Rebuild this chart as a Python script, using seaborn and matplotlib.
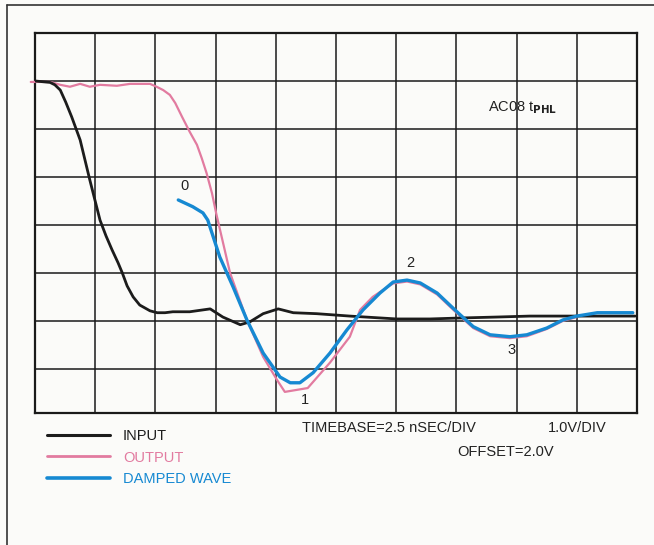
import numpy as np
import pandas as pd
import seaborn as sns
import matplotlib.pyplot as plt
from matplotlib.lines import Line2D

# Scope trace readings, in screen divisions (x: 2.5 ns/div, y: 1.0 V/div)
input_t = [0.0, 0.25, 0.33, 0.42, 0.51, 0.61, 0.75, 0.91, 1.08, 1.18, 1.28, 1.38, 1.45, 1.53,
           1.63, 1.74, 1.91, 2.03, 2.16, 2.29, 2.57, 2.91, 3.12, 3.41, 3.57, 3.79, 4.04, 4.29,
           4.68, 5.23, 6.01, 6.56, 7.06, 7.67, 8.22, 9.0, 9.97]
input_v = [7.0, 6.97, 6.92, 6.81, 6.56, 6.25, 5.77, 4.94, 4.10, 3.77, 3.48, 3.21, 3.0, 2.73,
           2.50, 2.33, 2.21, 2.17, 2.17, 2.19, 2.19, 2.25, 2.08, 1.92, 1.98, 2.15, 2.25, 2.17,
           2.15, 2.10, 2.04, 2.04, 2.06, 2.08, 2.10, 2.10, 2.10]

output_t = [-0.07, 0.25, 0.42, 0.58, 0.75, 0.91, 1.08, 1.36, 1.58, 1.91, 2.02, 2.13, 2.24, 2.33,
            2.44, 2.57, 2.69, 2.77, 2.85, 2.94, 3.01, 3.24, 3.52, 3.79, 4.02, 4.15, 4.53, 4.90,
            5.23, 5.40, 5.61, 5.80, 5.95, 6.18, 6.40, 6.68, 6.89, 7.06, 7.28, 7.56, 7.89, 8.17,
            8.50, 8.77, 9.00]
output_v = [6.98, 6.98, 6.92, 6.88, 6.94, 6.88, 6.92, 6.90, 6.94, 6.94, 6.88, 6.81, 6.71, 6.54,
            6.26, 5.94, 5.67, 5.39, 5.08, 4.66, 4.24, 3.0, 2.02, 1.25, 0.77, 0.52, 0.60, 1.13,
            1.67, 2.23, 2.50, 2.66, 2.78, 2.82, 2.76, 2.55, 2.30, 2.10, 1.85, 1.68, 1.64, 1.68,
            1.83, 2.0, 2.08]

damped_t = [2.38, 2.62, 2.79, 2.87, 3.07, 3.29, 3.52, 3.79, 4.07, 4.24, 4.40, 4.62, 4.90, 5.18,
            5.45, 5.73, 5.95, 6.18, 6.40, 6.68, 6.89, 7.06, 7.28, 7.56, 7.89, 8.17, 8.50, 8.77,
            9.00, 9.34, 9.67, 9.93]
damped_v = [4.52, 4.38, 4.25, 4.10, 3.33, 2.71, 2.02, 1.33, 0.83, 0.71, 0.71, 0.92, 1.33, 1.81,
            2.23, 2.58, 2.81, 2.85, 2.79, 2.58, 2.33, 2.13, 1.88, 1.71, 1.67, 1.71, 1.85, 2.02,
            2.10, 2.17, 2.17, 2.17]

# point labels along the damped wave
marker_text = ["0", "1", "2", "3"]
marker_t = [2.48, 4.49, 6.23, 7.91]
marker_v = [4.81, 0.35, 3.21, 1.40]

sns.set_style("white")
plt.rcParams['font.family'] = ['Liberation Sans', 'DejaVu Sans']

bg = '#fbfbf9'
fs = 10.5
fig = plt.figure(figsize=(6.54, 5.45), dpi=100, facecolor=bg)
ax = fig.add_axes([35/654, 1 - 413/545, (637 - 35)/654, (413 - 33)/545])
ax.set_facecolor(bg)

black = '#1c1c1c'
pink = '#e27ba0'
blue = '#1689d2'

sns.lineplot(x=output_t, y=output_v, sort=False, estimator=None, color=pink, lw=1.6,
             ax=ax, clip_on=False, zorder=3)
sns.lineplot(x=input_t, y=input_v, sort=False, estimator=None, color=black, lw=2.0,
             ax=ax, zorder=4)
sns.lineplot(x=damped_t, y=damped_v, sort=False, estimator=None, color=blue, lw=2.4,
             ax=ax, zorder=5)

for s, t, v in zip(marker_text, marker_t, marker_v):
    ax.text(t, v, s, fontsize=fs, ha='center', va='center', color='#222222')

ax.text(7.52, 6.44, r'AC08 t$_{\mathbf{PHL}}$', fontsize=fs, ha='left', va='center',
        color='#222222')

# scope graticule
ax.set_xlim(0, 10)
ax.set_ylim(0.08, 8)
ax.set_xticks(np.arange(1, 10))
ax.set_yticks(np.arange(1, 8))
ax.grid(True, color='#1a1a1a', lw=1.1)
ax.tick_params(left=False, bottom=False, labelleft=False, labelbottom=False)
for sp in ax.spines.values():
    sp.set_visible(True)
    sp.set_color('#1a1a1a')
    sp.set_linewidth(1.6)
ax.set_xlabel('')
ax.set_ylabel('')

# legend below the graticule
handles = [Line2D([], [], color=black, lw=2.2),
           Line2D([], [], color=pink, lw=2.0),
           Line2D([], [], color=blue, lw=2.6)]
fig.legend(handles, ['INPUT', 'OUTPUT', 'DAMPED WAVE'], loc='upper left',
           bbox_to_anchor=(40/654, 1 - 422/545), frameon=False, fontsize=fs,
           handlelength=4.3, handletextpad=0.9, labelspacing=0.5, borderpad=0,
           labelcolor=[black, pink, blue])

fig.text(302/654, 1 - 428/545, 'TIMEBASE=2.5 nSEC/DIV', fontsize=fs, ha='left', va='center',
         color='#222222')
fig.text(548/654, 1 - 428/545, '1.0V/DIV', fontsize=fs, ha='left', va='center', color='#222222')
fig.text(457/654, 1 - 452/545, 'OFFSET=2.0V', fontsize=fs, ha='left', va='center',
         color='#222222')

# outer frame (top and left edges)
fig.add_artist(Line2D([7/654, 1], [1 - 5/545, 1 - 5/545], color='#333333', lw=1.2,
                      transform=fig.transFigure))
fig.add_artist(Line2D([7/654, 7/654], [0, 1 - 5/545], color='#333333', lw=1.2,
                      transform=fig.transFigure))

fig.savefig('out.png', dpi=100, facecolor=bg)
